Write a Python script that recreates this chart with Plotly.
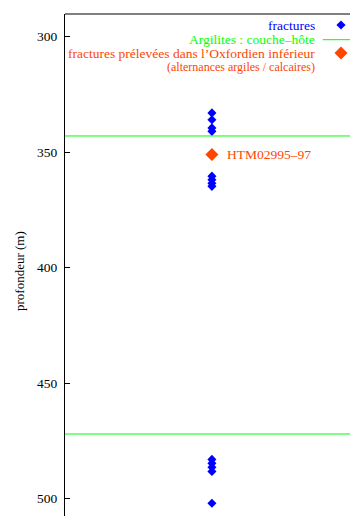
import plotly.graph_objects as go

# ---- data ----
fractures_depth = [333, 336, 339.5, 341, 360.4, 362, 363.5, 364.8,
                   483, 484.7, 486.4, 488.2, 502]
sampled_depth = [351]
sampled_label = ["HTM02995–97"]
host_rock_limits = [343, 472]
y_ticks = [300, 350, 400, 450, 500]
y_range = [507.5, 290.2]

legend_labels = ["fractures", "Argilites : couche–hôte",
                 "fractures prélevées dans l’Oxfordien inférieur",
                 "(alternances argiles / calcaires)"]

BLUE = "#0000ff"
GREEN = "#00ff00"
ORANGE = "#ff4500"
FONT = "Liberation Serif, Times New Roman, serif"

W, H = 350, 516
L, T = 65, 14

fig = go.Figure()

xpos = 0
fig.add_trace(go.Scatter(
    x=[xpos] * len(fractures_depth), y=fractures_depth, mode="markers",
    marker=dict(symbol="diamond", size=7, color=BLUE), showlegend=False,
    hoverinfo="y"))
fig.add_trace(go.Scatter(
    x=[xpos] * len(sampled_depth), y=sampled_depth, mode="markers",
    marker=dict(symbol="diamond", size=10, color=ORANGE), showlegend=False))
for d, lab in zip(sampled_depth, sampled_label):
    fig.add_annotation(x=xpos, y=d, xref="x", yref="y", text=lab,
                       showarrow=False, xanchor="left", yanchor="middle",
                       xshift=13,
                       font=dict(family=FONT, size=13.5, color=ORANGE))

for d in host_rock_limits:
    fig.add_hline(y=d, line=dict(color=GREEN, width=1))

# legend (gnuplot style: text right-aligned, key to the right) on overlay pixel axes
rows_y = [25, 39.7, 53, 67]
text_right = 317
key_x = 341
for i, (lab, col, sz) in enumerate(zip(legend_labels,
                                       [BLUE, GREEN, ORANGE, ORANGE],
                                       [13.5, 13.5, 13.5, 12])):
    fig.add_annotation(x=text_right, y=rows_y[i], xref="x2", yref="y2",
                       text=lab, showarrow=False, xanchor="right",
                       yanchor="middle",
                       font=dict(family=FONT, size=sz, color=col))
fig.add_trace(go.Scatter(x=[key_x], y=[rows_y[0]], xaxis="x2", yaxis="y2",
                         mode="markers", showlegend=False, hoverinfo="skip",
                         marker=dict(symbol="diamond", size=7, color=BLUE)))
fig.add_trace(go.Scatter(x=[322.7, 360], y=[rows_y[1]] * 2, xaxis="x2", yaxis="y2",
                         mode="lines", showlegend=False, hoverinfo="skip",
                         line=dict(color=GREEN, width=1)))
fig.add_trace(go.Scatter(x=[key_x], y=[rows_y[2]], xaxis="x2", yaxis="y2",
                         mode="markers", showlegend=False, hoverinfo="skip",
                         marker=dict(symbol="diamond", size=10, color=ORANGE)))

# axis title (paper coordinates)
fig.add_annotation(x=(19 - L) / (W - L), y=(H - 271) / (H - T),
                   xref="paper", yref="paper", text="profondeur (m)",
                   textangle=-90, showarrow=False,
                   xanchor="center", yanchor="middle",
                   font=dict(family=FONT, size=13, color="black"))

# top border
fig.add_shape(type="line", xref="paper", yref="paper", x0=0, x1=1, y0=1, y1=1,
              line=dict(color="black", width=1))

fig.update_layout(
    width=W, height=H,
    margin=dict(l=L, r=0, t=T, b=0),
    paper_bgcolor="white", plot_bgcolor="white",
    xaxis=dict(range=[-1, 0.94], visible=False, fixedrange=True),
    yaxis=dict(range=y_range, tickvals=y_ticks, ticks="inside", ticklen=5,
               tickcolor="black", showline=True, linecolor="black", linewidth=1,
               showgrid=False, zeroline=False, ticklabelstandoff=4,
               tickfont=dict(family=FONT, size=13.5, color="black")),
    xaxis2=dict(range=[L, W], overlaying="x", visible=False, fixedrange=True),
    yaxis2=dict(range=[H, T], overlaying="y", visible=False, fixedrange=True),
    font=dict(family=FONT),
)

fig.write_html("out.html")
